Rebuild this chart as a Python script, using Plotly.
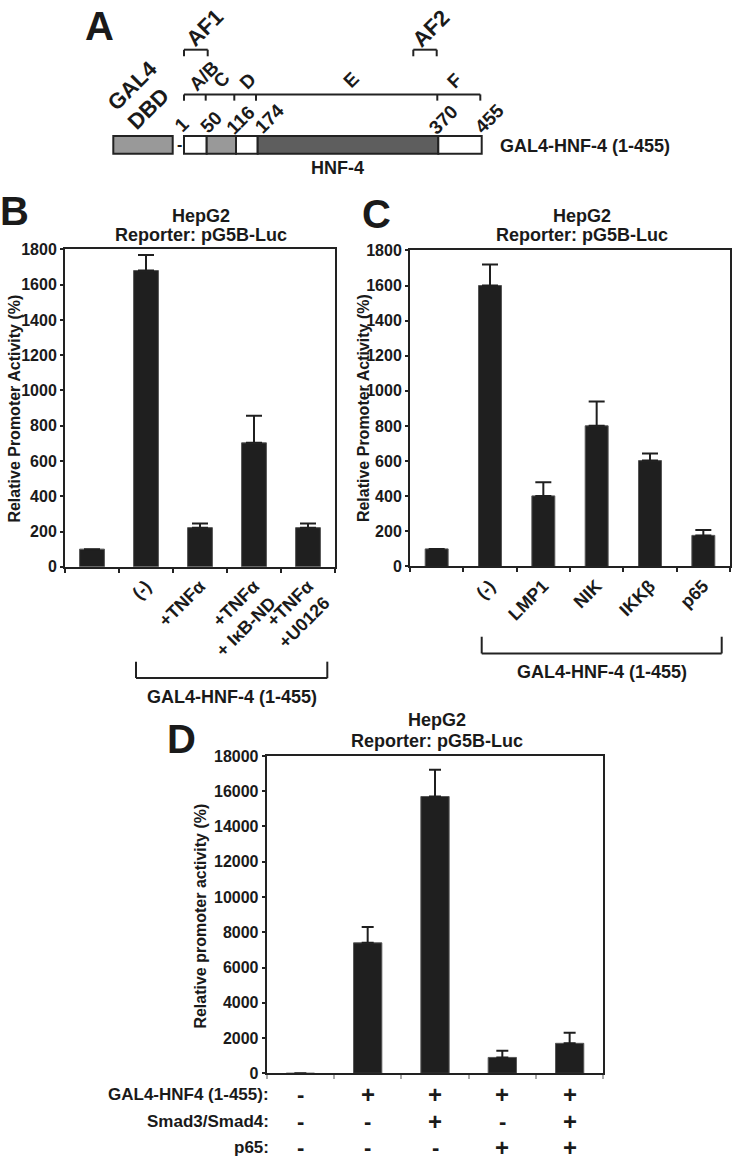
import plotly.graph_objects as go

# ---------------- DATA ----------------
# Panel B
cats_B = [" ", "(-)", "+TNFα", "+TNFα<br>+ IκB-ND", "+TNFα<br>+U0126"]
vals_B = [100, 1680, 222, 703, 222]
errtop_B = [100, 1768, 245, 857, 245]
# Panel C
cats_C = [" ", "(-)", "LMP1", "NIK", "IKKβ", "p65"]
vals_C = [100, 1600, 402, 801, 603, 177]
errtop_C = [100, 1720, 480, 940, 643, 208]
# Panel D
cats_D = ["c1", "c2", "c3", "c4", "c5"]
vals_D = [0, 7400, 15700, 900, 1700]
errtop_D = [0, 8300, 17220, 1280, 2300]
rows_D = ["GAL4-HNF4 (1-455):", "Smad3/Smad4:", "p65:"]
gal4_D = ["-", "+", "+", "+", "+"]
smad_D = ["-", "-", "+", "-", "+"]
p65_D = ["-", "-", "-", "+", "+"]
yticks_B = list(range(0, 1801, 200))
yticks_D = list(range(0, 18001, 2000))
# Panel A (schematic)
residues = [1, 50, 116, 174, 370, 455]
domains = ["A/B", "C", "D", "E", "F"]
domain_fill = ["white", "#999999", "white", "#5e5e5e", "white"]

# ---------------- LAYOUT HELPERS ----------------
W, H = 732, 1170
def X(px): return px / W
def Y(py): return 1 - py / H
FAM = "Liberation Sans, Arial, sans-serif"
INK = "#1a1a1a"
def fnt(size, bold=True, color=INK):
    return dict(family=FAM, size=size, color=color, weight="bold" if bold else "normal")

annotations = []
shapes = []
def ann(text, xpx, ypx, size, angle=0, xanchor="center", yanchor="middle", bold=True):
    annotations.append(dict(text=text, x=X(xpx), y=Y(ypx), xref="paper", yref="paper",
                            showarrow=False, textangle=angle, xanchor=xanchor,
                            yanchor=yanchor, font=fnt(size, bold)))
def line(x0, y0, x1, y1, w=2, color="#222"):
    shapes.append(dict(type="line", xref="paper", yref="paper", x0=X(x0), y0=Y(y0),
                       x1=X(x1), y1=Y(y1), line=dict(color=color, width=w)))
def rect(x0, y0, x1, y1, fill, w=2):
    shapes.append(dict(type="rect", xref="paper", yref="paper", x0=X(x0), y0=Y(y0),
                       x1=X(x1), y1=Y(y1), fillcolor=fill, line=dict(color="#222", width=w)))

fig = go.Figure()

def bars(cats, vals, tops, xa, ya, width, capw):
    fig.add_trace(go.Bar(
        x=cats, y=vals, xaxis=xa, yaxis=ya, width=width,
        marker=dict(color="#1f1f1f", line=dict(color="#555", width=1)),
        error_y=dict(type="data", symmetric=False,
                     array=[t - v for t, v in zip(tops, vals)],
                     arrayminus=[0] * len(vals), color="#1f1f1f",
                     thickness=2, width=capw),
        showlegend=False))

bars(cats_B, vals_B, errtop_B, "x", "y", 0.46, 8)
bars(cats_C, vals_C, errtop_C, "x2", "y2", 0.43, 8)
bars(cats_D, vals_D, errtop_D, "x3", "y3", 0.42, 6)

def xax(dom, n, labels=True, tcol="#222"):
    return dict(domain=dom, type="category", range=[-0.5, n - 0.5], showline=True,
                linecolor="#222", linewidth=2, mirror=True, ticks="outside",
                tickson="boundaries", ticklen=4, tickwidth=1.5, tickcolor=tcol,
                showgrid=False, zeroline=False, showticklabels=labels,
                tickangle=-45, tickfont=fnt(18), fixedrange=True)
def yax(dom, rng, tv, anchor):
    return dict(domain=dom, range=rng, tickvals=tv, tickformat="d", showline=True,
                linecolor="#222", linewidth=2, mirror=True, ticks="outside", ticklen=3,
                tickwidth=2, tickcolor="#222", showgrid=False, zeroline=False,
                tickfont=fnt(16), anchor=anchor, fixedrange=True)

layout = dict(
    width=W, height=H, margin=dict(l=0, r=0, t=0, b=0),
    paper_bgcolor="white", plot_bgcolor="white",
    xaxis=dict(xax([X(65), X(335)], len(cats_B)), anchor="y"),
    yaxis=yax([Y(567), Y(245)], [0, 1800], yticks_B, "x"),
    xaxis2=dict(xax([X(410), X(730)], len(cats_C)), anchor="y2"),
    yaxis2=yax([Y(566.7), Y(246)], [0, 1800], yticks_B, "x2"),
    xaxis3=dict(xax([X(266.7), X(603.3)], len(cats_D), labels=False, tcol="#aaa"), anchor="y3"),
    yaxis3=yax([Y(1081), Y(759)], [0, 18000], yticks_D, "x3"),
)

# ---------------- Panel letters & titles ----------------
ann("A", 99.5, 18, 40)
ann("B", 15, 206, 40)
ann("C", 376.5, 209, 40)
ann("D", 181, 741.5, 40)
for cx, y1, y2 in [(200.5, 210.7, 230.7), (581.7, 210.7, 230.7), (437, 723, 744)]:
    ann("HepG2", cx, y1, 18)
    ann("Reporter: pG5B-Luc", cx, y2, 18)
ann("Relative Promoter Activity (%)", 14.5, 407, 16, angle=-90)
ann("Relative Promoter Activity (%)", 363, 406, 16, angle=-90)
ann("Relative promoter activity (%)", 201, 922, 16, angle=-90)

# Brackets under B and C
for lx, rx, ty, by, ly in [(136, 327.3, 663.3, 680, 699), (481.7, 721.7, 638, 655, 674)]:
    line(lx, ty, lx, by)
    line(lx, by, rx, by)
    line(rx, by, rx, ty)
    ann("GAL4-HNF-4 (1-455)", (lx + rx) / 2, ly, 18)

# D table of +/- beneath bars
row_y = [1103, 1129.5, 1156.5]
for ry, rlab, states in zip(row_y, rows_D, [gal4_D, smad_D, p65_D]):
    ann(rlab, 271, ry, 17, xanchor="right")
    for c, s in zip(cats_D, states):
        annotations.append(dict(text=s, x=c, y=Y(ry), xref="x3", yref="paper",
                                showarrow=False, xanchor="center", yanchor="middle",
                                font=fnt(24 if s == "+" else 22)))

# ---------------- Panel A schematic ----------------
bpx = [184, 206.7, 236, 257.7, 438.3, 481.7]   # drawn boundary positions
box_top, box_bot = 130, 148
rect(113.3, box_top, 172.7, box_bot, "#999999")
for i, fill in enumerate(domain_fill):
    rect(bpx[i], box_top, bpx[i + 1], box_bot, fill)
ann("-", 179, 139, 16)
ann("GAL4-HNF-4 (1-455)", 498, 140, 18, xanchor="left")
ann("HNF-4", 337, 162, 18)
ann("GAL4", 132.5, 79, 22, angle=-45)
ann("DBD", 148.3, 101.5, 22, angle=-45)
# domain ruler
tick_px = [184, 205.7, 234.3, 256, 437.3, 480.3]
line(tick_px[0], 87.7, tick_px[-1], 87.7)
for t in tick_px:
    line(t, 87.7, t, 94)
dom_lab_pos = [(204, 68), (221.7, 73), (248.3, 74), (351.7, 73), (455, 74)]
for name, (dx, dy) in zip(domains, dom_lab_pos):
    ann(name, dx, dy, 19, angle=-45)
res_lab_pos = [(181.7, 118), (211, 116.5), (241, 113.3), (269.3, 111.7), (443.3, 112.7), (489.3, 111.7)]
for r, (rx, ry) in zip(residues, res_lab_pos):
    ann(str(r), rx, ry, 19, angle=-45)
# AF brackets
for lx, rx, lab, tx, ty in [(184, 207.7, "AF1", 205, 20), (413.3, 436.7, "AF2", 430.7, 20.7)]:
    line(lx, 49, lx, 42.3)
    line(lx, 42.3, rx, 42.3)
    line(rx, 42.3, rx, 49)
    ann(lab, tx, ty, 22, angle=-45)

layout["annotations"] = annotations
layout["shapes"] = shapes
fig.update_layout(**layout)
fig.write_html("out.html", config={"displayModeBar": False},
               post_script="document.body.style.margin='0';document.body.style.padding='0';")
